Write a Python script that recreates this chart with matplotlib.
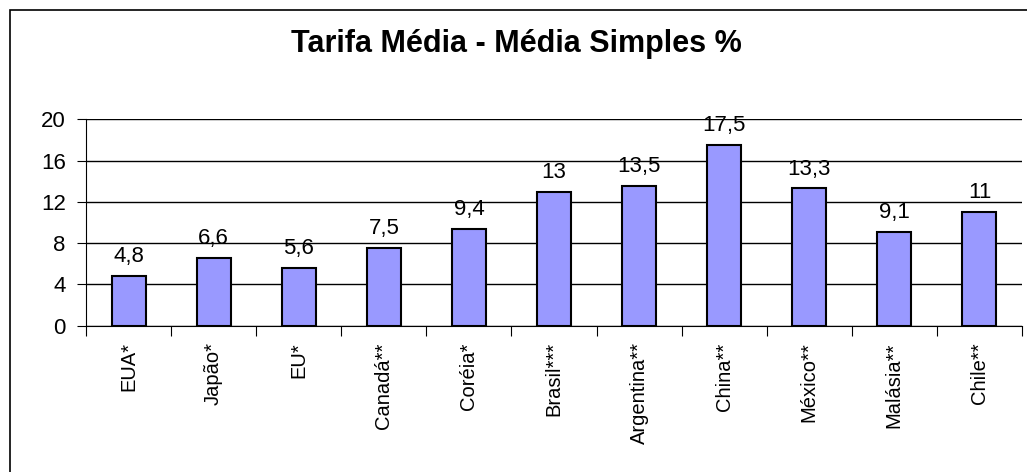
import numpy as np
import matplotlib
matplotlib.use('Agg')
import matplotlib.pyplot as plt
from matplotlib.patches import Rectangle

plt.rcParams['font.family'] = ['Liberation Sans', 'DejaVu Sans']

paises = ['EUA*', 'Japão*', 'EU*', 'Canadá**', 'Coréia*', 'Brasil***',
          'Argentina**', 'China**', 'México**', 'Malásia**', 'Chile**']
tarifas = [4.8, 6.6, 5.6, 7.5, 9.4, 13, 13.5, 17.5, 13.3, 9.1, 11]
yticks = [0, 4, 8, 12, 16, 20]

fig = plt.figure(figsize=(10.27, 4.72), dpi=100)
# moldura do grafico
fig.patches.append(Rectangle((10 / 1027, -0.05), 1.1, 1 - 10 / 472 + 0.05,
                             transform=fig.transFigure, fill=False,
                             edgecolor='black', linewidth=1.2))

ax = fig.add_axes([86 / 1027, 1 - 325.7 / 472, (1022 - 86) / 1027, (325.7 - 119.3) / 472])

x = np.arange(len(paises))
ax.bar(x, tarifas, width=0.4, color='#9999FF', edgecolor='black', linewidth=1.5, zorder=3)

for xi, v in zip(x, tarifas):
    txt = ('%g' % v).replace('.', ',')
    ax.annotate(txt, (xi, v), xytext=(0, 10), textcoords='offset points',
                ha='center', va='baseline', fontsize=16)

ax.set_xlim(-0.5, len(paises) - 0.5)
ax.set_ylim(0, 20)
ax.set_yticks(yticks)
ax.set_yticklabels([str(t) for t in yticks], fontsize=16)
ax.yaxis.grid(True, color='black', linewidth=1)
ax.set_axisbelow(True)

ax.set_xticks(np.arange(len(paises) + 1) - 0.5)
ax.set_xticklabels([])
ax.set_xticks(x, minor=True)
ax.set_xticklabels(paises, minor=True, rotation=90, fontsize=14.5)
ax.tick_params(axis='x', which='major', length=7, direction='out', color='black')
ax.tick_params(axis='x', which='minor', length=0, pad=12)
ax.tick_params(axis='y', length=6.5, direction='out', pad=8)

for s in ['top', 'right']:
    ax.spines[s].set_visible(False)
ax.spines['left'].set_color('black')
ax.spines['bottom'].set_color('black')

fig.text(516 / 1027, 1 - 44 / 472, 'Tarifa Média - Média Simples %', ha='center', va='center',
         fontsize=22, fontweight='bold')

fig.savefig('out.png', dpi=100)
